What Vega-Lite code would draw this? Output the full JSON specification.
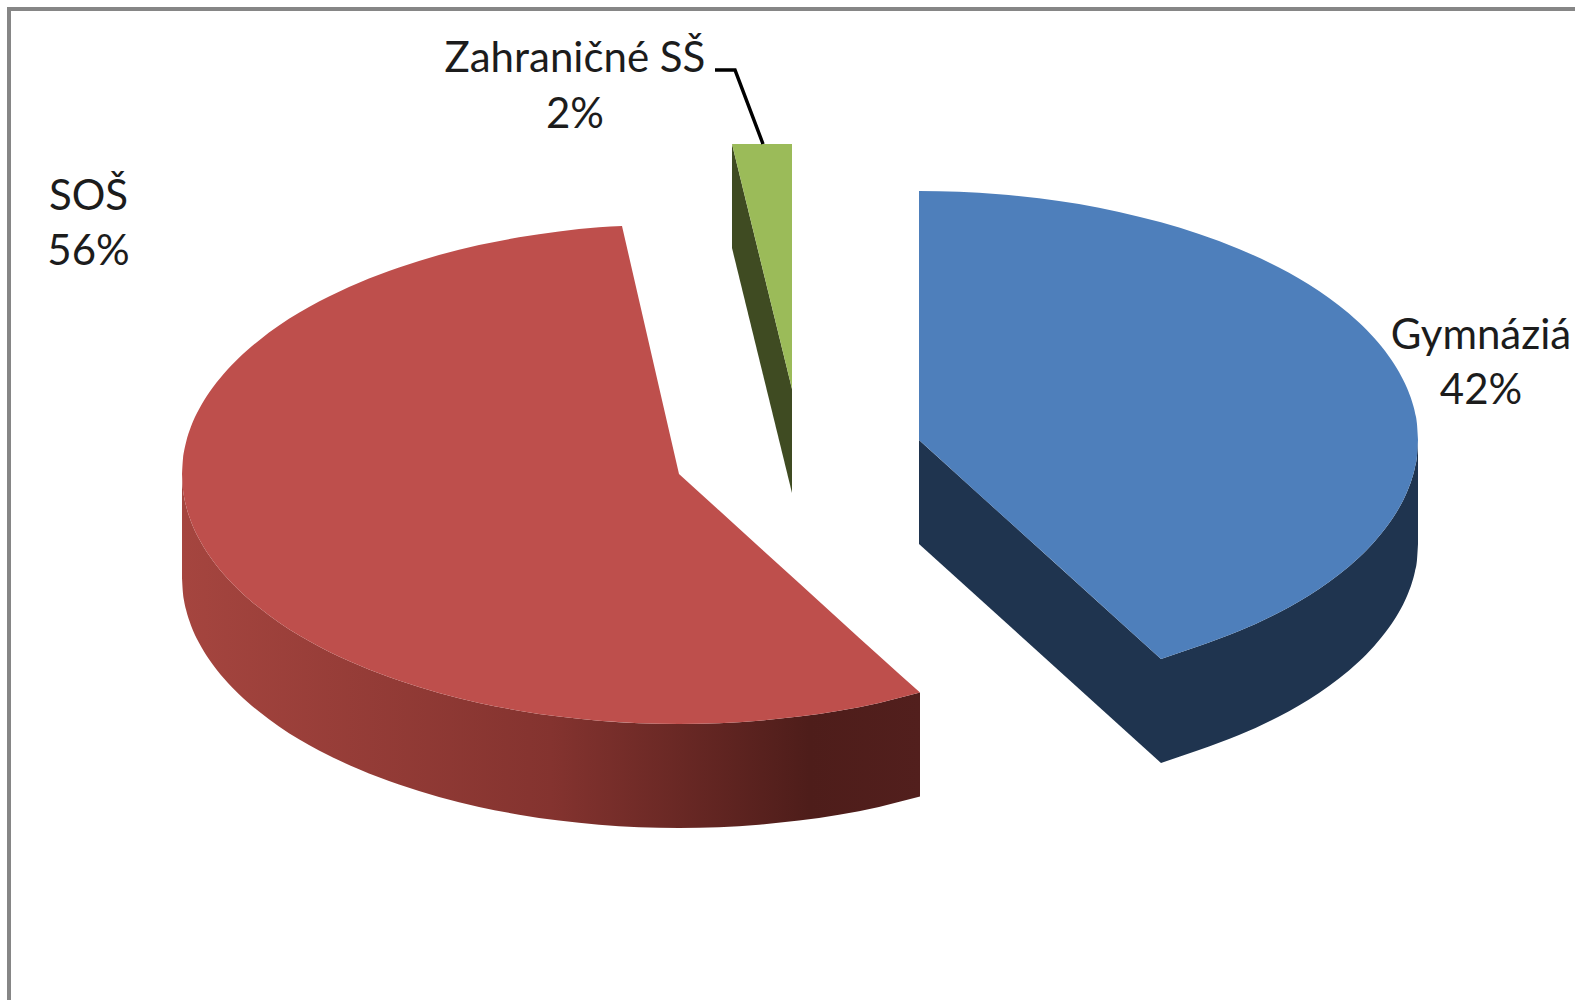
{
"$schema":"https://vega.github.io/schema/vega-lite/v6.json",
"width":1575,"height":1000,"padding":0,
"autosize":{"type":"fit","contains":"padding"},
"background":"#ffffff",
"view":{"stroke":null},
"datasets":{
"frame":[{"x":9,"y":1000,"o":1},{"x":9,"y":9,"o":2},{"x":1575,"y":9,"o":3}],
"leader":[{"x":715,"y":70,"o":1},{"x":735,"y":70,"o":2},{"x":763,"y":144,"o":3}],
"gymSide":[{"p":"a","x":919,"y":440,"y2":544},{"p":"a","x":1161,"y":659,"y2":763},
{"p":"b","x":1161,"y":659,"y2":763},{"p":"b","x":1199,"y":646.1,"y2":750.1},{"p":"b","x":1239,"y":631.1,"y2":735.1},{"p":"b","x":1279,"y":612.4,"y2":716.4},{"p":"b","x":1319,"y":588.9,"y2":692.9},{"p":"b","x":1339,"y":574.5,"y2":678.5},{"p":"b","x":1359,"y":557.5,"y2":661.5},{"p":"b","x":1374,"y":542.2,"y2":646.2},{"p":"b","x":1389,"y":523.6,"y2":627.6},{"p":"b","x":1399,"y":508.1,"y2":612.1},{"p":"b","x":1407,"y":492,"y2":596},{"p":"b","x":1412,"y":478.5,"y2":582.5},{"p":"b","x":1415,"y":467.3,"y2":571.3},{"p":"b","x":1417,"y":455.8,"y2":559.8},{"p":"b","x":1418,"y":440,"y2":544}],
"gymTop":[{"p":"a","x":919,"y":191,"y2":440},{"p":"a","x":959,"y":191.8,"y2":476.2},{"p":"a","x":999,"y":194.2,"y2":512.4},{"p":"a","x":1039,"y":198.3,"y2":548.6},{"p":"a","x":1079,"y":204.1,"y2":584.8},{"p":"a","x":1119,"y":211.9,"y2":621},{"p":"a","x":1161,"y":222.2,"y2":659},
{"p":"b","x":1161,"y":222.2,"y2":659},{"p":"b","x":1199,"y":233.9,"y2":646.1},{"p":"b","x":1239,"y":248.9,"y2":631.1},{"p":"b","x":1279,"y":267.6,"y2":612.4},{"p":"b","x":1319,"y":291.1,"y2":588.9},{"p":"b","x":1339,"y":305.5,"y2":574.5},{"p":"b","x":1359,"y":322.5,"y2":557.5},{"p":"b","x":1374,"y":337.8,"y2":542.2},{"p":"b","x":1389,"y":356.4,"y2":523.6},{"p":"b","x":1399,"y":371.9,"y2":508.1},{"p":"b","x":1407,"y":388,"y2":492},{"p":"b","x":1412,"y":401.5,"y2":478.5},{"p":"b","x":1415,"y":412.7,"y2":467.3},{"p":"b","x":1417,"y":424.2,"y2":455.8},{"p":"b","x":1418,"y":440,"y2":440}],
"sosSide":[{"x":182,"y":474,"y2":578},{"x":183,"y":489.8,"y2":593.8},{"x":184,"y":496.4,"y2":600.4},{"x":186,"y":505.6,"y2":609.6},{"x":191,"y":521.4,"y2":625.4},{"x":199,"y":538.8,"y2":642.8},{"x":209,"y":555.3,"y2":659.3},{"x":224,"y":574.6,"y2":678.6},{"x":239,"y":590.2,"y2":694.2},{"x":259,"y":607.6,"y2":711.6},{"x":279,"y":622.4,"y2":726.4},{"x":319,"y":646.4,"y2":750.4},{"x":359,"y":665.3,"y2":769.3},{"x":399,"y":680.5,"y2":784.5},{"x":439,"y":692.9,"y2":796.9},{"x":479,"y":702.9,"y2":806.9},{"x":519,"y":710.7,"y2":814.7},{"x":559,"y":716.6,"y2":820.6},{"x":599,"y":720.7,"y2":824.7},{"x":639,"y":723.2,"y2":827.2},{"x":679,"y":724,"y2":828},{"x":719,"y":723.2,"y2":827.2},{"x":759,"y":720.7,"y2":824.7},{"x":799,"y":716.6,"y2":820.6},{"x":839,"y":710.7,"y2":814.7},{"x":879,"y":702.9,"y2":806.9},{"x":920,"y":692.6,"y2":796.6}],
"sosTop":[{"p":"a","x":182,"y":474,"y2":474},{"p":"a","x":183,"y":458.2,"y2":489.8},{"p":"a","x":184,"y":451.6,"y2":496.4},{"p":"a","x":186,"y":442.4,"y2":505.6},{"p":"a","x":191,"y":426.6,"y2":521.4},{"p":"a","x":199,"y":409.2,"y2":538.8},{"p":"a","x":209,"y":392.7,"y2":555.3},{"p":"a","x":224,"y":373.4,"y2":574.6},{"p":"a","x":239,"y":357.8,"y2":590.2},{"p":"a","x":259,"y":340.4,"y2":607.6},{"p":"a","x":279,"y":325.6,"y2":622.4},{"p":"a","x":319,"y":301.6,"y2":646.4},{"p":"a","x":359,"y":282.7,"y2":665.3},{"p":"a","x":399,"y":267.5,"y2":680.5},{"p":"a","x":439,"y":255.1,"y2":692.9},{"p":"a","x":479,"y":245.1,"y2":702.9},{"p":"a","x":519,"y":237.3,"y2":710.7},{"p":"a","x":559,"y":231.4,"y2":716.6},{"p":"a","x":599,"y":227.3,"y2":720.7},{"p":"a","x":622,"y":226,"y2":722.3},
{"p":"b","x":622,"y":226,"y2":722.3},{"p":"b","x":639,"y":300,"y2":723.2},{"p":"b","x":679,"y":474,"y2":724},
{"p":"c","x":679,"y":474,"y2":724},{"p":"c","x":719,"y":510.3,"y2":723.2},{"p":"c","x":759,"y":546.7,"y2":720.7},{"p":"c","x":799,"y":583,"y2":716.6},{"p":"c","x":839,"y":619.4,"y2":710.7},{"p":"c","x":879,"y":655.7,"y2":702.9},{"p":"c","x":920,"y":692.6,"y2":692.6}],
"zahrSide":[{"x":732,"y":144,"y2":248},{"x":792,"y":389,"y2":493}],
"zahrTop":[{"x":732,"y":144,"y2":144},{"x":792,"y":144,"y2":389}],
"labels":[
{"text":"Zahraničné SŠ","x":575,"y":71.5},{"text":"2%","x":575,"y":127.5},
{"text":"SOŠ","x":88.5,"y":209.5},{"text":"56%","x":88.5,"y":264.5},
{"text":"Gymnáziá","x":1481,"y":348.5},{"text":"42%","x":1481,"y":403.5}]
},
"encoding":{
"x":{"field":"x","type":"quantitative","scale":{"domain":[0,1575],"nice":false,"zero":false},"axis":null},
"y":{"field":"y","type":"quantitative","scale":{"domain":[1000,0],"nice":false,"zero":false},"axis":null,"stack":null}
},
"layer":[
{"data":{"name":"frame"},"mark":{"type":"line","color":"#868686","strokeWidth":4,"clip":true},"encoding":{"order":{"field":"o"}}},
{"data":{"name":"gymSide"},"mark":{"type":"area","color":"#1F344F","interpolate":"monotone"},"encoding":{"y2":{"field":"y2"},"detail":{"field":"p"}}},
{"data":{"name":"gymTop"},"mark":{"type":"area","color":"#4E7FBB","interpolate":"monotone"},"encoding":{"y2":{"field":"y2"},"detail":{"field":"p"}}},
{"data":{"name":"sosSide"},"mark":{"type":"area","interpolate":"monotone","color":{"gradient":"linear","x1":0,"x2":1,"y1":0,"y2":0,"stops":[{"offset":0,"color":"#A5453F"},{"offset":0.5,"color":"#84332F"},{"offset":0.85,"color":"#4E1D1A"},{"offset":1,"color":"#521F1D"}]}},"encoding":{"y2":{"field":"y2"}}},
{"data":{"name":"sosTop"},"mark":{"type":"area","color":"#BE4F4C","interpolate":"monotone"},"encoding":{"y2":{"field":"y2"},"detail":{"field":"p"}}},
{"data":{"name":"zahrSide"},"mark":{"type":"area","color":"#3F4B22"},"encoding":{"y2":{"field":"y2"}}},
{"data":{"name":"zahrTop"},"mark":{"type":"area","color":"#9BBB59"},"encoding":{"y2":{"field":"y2"}}},
{"data":{"name":"leader"},"mark":{"type":"line","color":"#000000","strokeWidth":3.5},"encoding":{"order":{"field":"o"}}},
{"data":{"name":"labels"},"mark":{"type":"text","font":"Lato","fontSize":42,"color":"#1c1c1c","align":"center","baseline":"alphabetic"},"encoding":{"text":{"field":"text"}}}
]
}
